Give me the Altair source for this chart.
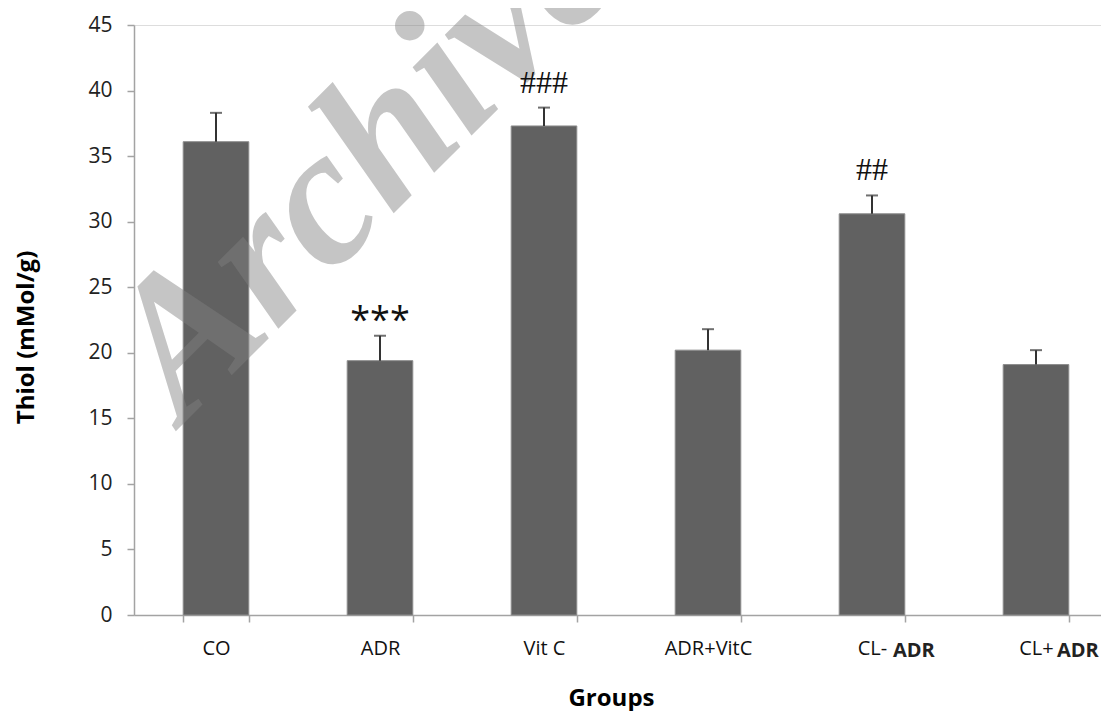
import altair as alt
import pandas as pd

# ---- data ----
groups = ["CO", "ADR", "Vit C", "ADR+VitC", "CL- ADR", "CL+ADR"]
axis_prefix = ["CO", "ADR", "Vit C", "ADR+VitC", "CL-", "CL+"]
bold_suffix = ["", "", "", "", "ADR", "ADR"]
means = [36.1, 19.4, 37.3, 20.2, 30.6, 19.1]
upper = [38.3, 21.3, 38.7, 21.8, 32.0, 20.2]

star_groups = ["ADR"]
star_text = ["***"]
star_y = [21.6]

hash_groups = ["Vit C", "CL- ADR"]
hash_text = ["###", "##"]
hash_y = [39.8, 33.2]

y_ticks = [0, 5, 10, 15, 20, 25, 30, 35, 40, 45]

df = pd.DataFrame({"group": groups, "mean": means, "upper": upper})
df_suffix = pd.DataFrame({"group": groups, "suffix": bold_suffix})
df_suffix = df_suffix[df_suffix["suffix"] != ""]
df_star = pd.DataFrame({"group": star_groups, "txt": star_text, "y": star_y})
df_hash = pd.DataFrame({"group": hash_groups, "txt": hash_text, "y": hash_y})
df_wm = pd.DataFrame({"t": ["Archive"]})

label_map = " : ".join(
    [f"datum.label == '{g}' ? '{p}'" for g, p in zip(groups, axis_prefix)]
) + " : datum.label"

AXIS_GRAY = "#a3a3a3"
FONT = "Open Sans"

x_enc = alt.X(
    "group:N",
    sort=groups,
    scale=alt.Scale(domain=groups, range=[0, 984], paddingInner=0.6, paddingOuter=0.3),
    axis=alt.Axis(
        title="Groups",
        titleFont=FONT,
        titleFontSize=24,
        titleFontWeight="bold",
        titleColor="#000000",
        titleX=477,
        titleY=90,
        titleBaseline="alphabetic",
        titleAlign="center",
        labelFont=FONT,
        labelFontSize=20,
        labelColor="#111111",
        labelAngle=0,
        labelPadding=16,
        labelExpr=label_map,
        tickSize=7,
        tickColor=AXIS_GRAY,
        tickWidth=1.5,
        tickBand="extent",
        domainColor=AXIS_GRAY,
        domainWidth=1.5,
        grid=False,
    ),
)

y_enc = alt.Y(
    "mean:Q",
    scale=alt.Scale(domain=[0, 45], nice=False, zero=True),
    axis=alt.Axis(
        title="Thiol (mMol/g)",
        titleFont=FONT,
        titleFontSize=24,
        titleFontWeight="bold",
        titleColor="#000000",
        titleX=-96,
        titleY=312,
        titleAngle=270,
        titleBaseline="bottom",
        titleAlign="center",
        values=y_ticks,
        labelFont=FONT,
        labelFontSize=21,
        labelColor="#222222",
        labelPadding=15,
        tickSize=7,
        tickColor=AXIS_GRAY,
        tickWidth=1.5,
        domainColor=AXIS_GRAY,
        domainWidth=1.5,
        grid=False,
    ),
)

base = alt.Chart(df)

bars = base.mark_bar(color="#616161", stroke="#8c8c8c", strokeWidth=1).encode(x=x_enc, y=y_enc)

watermark = alt.Chart(df_wm).mark_text(
    font="Liberation Serif",
    fontStyle="italic",
    fontWeight="bold",
    fontSize=196,
    angle=315,
    align="left",
    baseline="alphabetic",
    color="#808080",
    opacity=0.45,
).encode(x=alt.value(49), y=alt.value(399), text="t:N")

err_line = base.mark_rule(color="#333333", strokeWidth=2).encode(
    x=alt.X("group:N", sort=groups), y="mean:Q", y2="upper:Q"
)
err_cap = base.mark_tick(color="#333333", thickness=2, size=12).encode(
    x=alt.X("group:N", sort=groups), y="upper:Q"
)

stars = alt.Chart(df_star).mark_text(
    font=FONT, fontSize=36, baseline="alphabetic", color="#111111"
).encode(x=alt.X("group:N", sort=groups), y="y:Q", text="txt:N")

hashes = alt.Chart(df_hash).mark_text(
    font="Liberation Serif", fontSize=32, baseline="alphabetic", color="#111111"
).encode(x=alt.X("group:N", sort=groups), y="y:Q", text="txt:N")

suffix = alt.Chart(df_suffix).mark_text(
    font=FONT, fontSize=20, fontWeight="bold", align="left", dx=21,
    baseline="alphabetic", color="#222222"
).encode(x=alt.X("group:N", sort=groups), y=alt.value(632), text="suffix:N")

chart = (
    alt.layer(bars, watermark, err_line, err_cap, stars, hashes, suffix)
    .properties(
        width=967,
        height=590,
        autosize=alt.AutoSizeParams(type="none"),
        padding={"left": 126, "top": 17, "right": 0, "bottom": 96},
    )
    .configure_view(stroke=None)
    .configure(background="white")
)

chart.save("out.html", embed_options={"renderer": "svg", "actions": False})
